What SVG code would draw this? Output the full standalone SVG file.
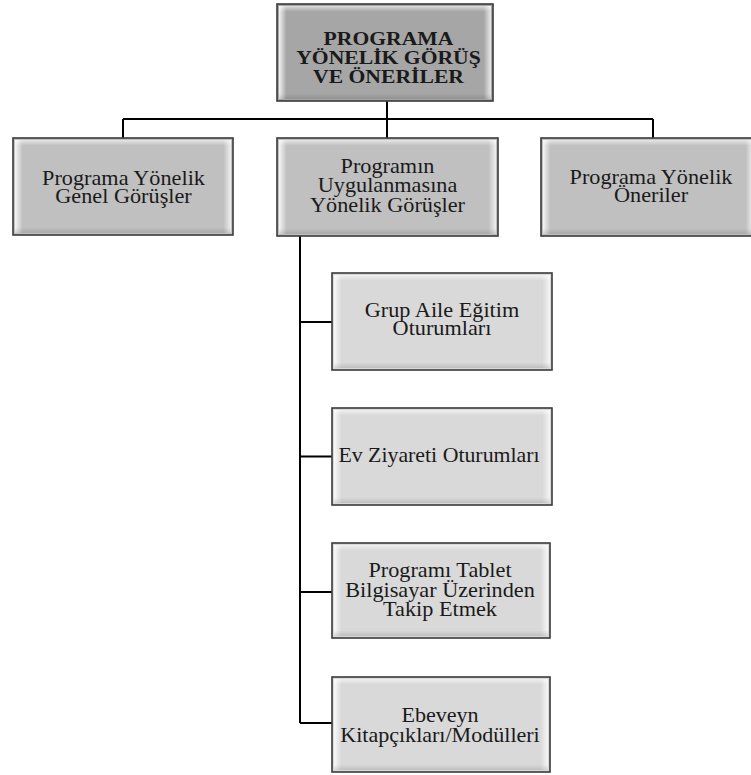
<svg xmlns="http://www.w3.org/2000/svg" width="751" height="775" viewBox="0 0 751 775">
<defs>
<linearGradient id="bevH" x1="0" y1="0" x2="1" y2="0">
<stop offset="0" stop-color="#ffffff" stop-opacity="0.85"/>
<stop offset="0.035" stop-color="#ffffff" stop-opacity="0"/>
<stop offset="0.965" stop-color="#ffffff" stop-opacity="0"/>
<stop offset="1" stop-color="#ffffff" stop-opacity="0.75"/>
</linearGradient>
<linearGradient id="bevV" x1="0" y1="0" x2="0" y2="1">
<stop offset="0" stop-color="#ffffff" stop-opacity="0.6"/>
<stop offset="0.06" stop-color="#ffffff" stop-opacity="0"/>
<stop offset="0.94" stop-color="#000000" stop-opacity="0"/>
<stop offset="1" stop-color="#000000" stop-opacity="0.12"/>
</linearGradient>
</defs>
<style>
.box{stroke:#3a3a3a;stroke-width:1.6}
.top{fill:#a6a6a6}
.l2{fill:#c0c0c0}
.l3{fill:#d9d9d9}
.bh{fill:url(#bevH)}
.bv{fill:url(#bevV)}
text{font-family:"Liberation Serif","Times New Roman",serif;font-size:21px;fill:#1a1a1a;text-anchor:middle}
.b{font-weight:bold;font-size:19.5px}
.ln{stroke:#000;stroke-width:2;fill:none}
</style>
<rect width="751" height="775" fill="#ffffff"/>
<g id="connectors">
<path class="ln" d="M387 101V119M123 119H653M123 119V138M387 119V138M653 119V138"/>
<path class="ln" d="M300 236V723M300 322H332M300 456.5H332M300 592H332M300 723H332"/>
</g>
<g id="root">
<rect class="box top" x="277" y="4" width="216" height="97"/>
<rect class="bh" x="279" y="6" width="212" height="93"/>
<rect class="bv" x="279" y="6" width="212" height="93"/>
<g transform="translate(388.5 0) scale(1.11 1)">
<text class="b" x="0" y="45">PROGRAMA</text>
<text class="b" x="0" y="64.5">YÖNELİK GÖRÜŞ</text>
<text class="b" x="0" y="83.5">VE ÖNERİLER</text>
</g>
</g>
<g id="genel">
<rect class="box l2" x="13" y="138" width="220" height="97"/>
<rect class="bh" x="15" y="140" width="216" height="93"/>
<rect class="bv" x="15" y="140" width="216" height="93"/>
<g transform="translate(123.5 0) scale(1.06 1)">
<text x="0" y="185">Programa Yönelik</text>
<text x="0" y="203.5">Genel Görüşler</text>
</g>
</g>
<g id="uygulama">
<rect class="box l2" x="277" y="138" width="221" height="98"/>
<rect class="bh" x="279" y="140" width="217" height="94"/>
<rect class="bv" x="279" y="140" width="217" height="94"/>
<g transform="translate(387.5 0) scale(1.06 1)">
<text x="0" y="173">Programın</text>
<text x="0" y="192.5">Uygulanmasına</text>
<text x="0" y="212">Yönelik Görüşler</text>
</g>
</g>
<g id="oneriler">
<rect class="box l2" x="541" y="138" width="214" height="98"/>
<rect class="bh" x="543" y="140" width="210" height="94"/>
<rect class="bv" x="543" y="140" width="210" height="94"/>
<g transform="translate(651 0) scale(1.06 1)">
<text x="0" y="184">Programa Yönelik</text>
<text x="0" y="202.5">Öneriler</text>
</g>
</g>
<g id="grup">
<rect class="box l3" x="332" y="273" width="220" height="97"/>
<rect class="bh" x="334" y="275" width="216" height="93"/>
<rect class="bv" x="334" y="275" width="216" height="93"/>
<g transform="translate(442 0) scale(1.06 1)">
<text x="0" y="317">Grup Aile Eğitim</text>
<text x="0" y="335.5">Oturumları</text>
</g>
</g>
<g id="ev">
<rect class="box l3" x="332" y="408" width="220" height="97"/>
<rect class="bh" x="334" y="410" width="216" height="93"/>
<rect class="bv" x="334" y="410" width="216" height="93"/>
<g transform="translate(439 0) scale(1.04 1)">
<text x="0" y="462">Ev Ziyareti Oturumları</text>
</g>
</g>
<g id="tablet">
<rect class="box l3" x="332" y="543" width="218" height="95"/>
<rect class="bh" x="334" y="545" width="214" height="91"/>
<rect class="bv" x="334" y="545" width="214" height="91"/>
<g transform="translate(440 0) scale(1.06 1)">
<text x="0" y="577">Programı Tablet</text>
<text x="0" y="597">Bilgisayar Üzerinden</text>
<text x="0" y="616.5">Takip Etmek</text>
</g>
</g>
<g id="ebeveyn">
<rect class="box l3" x="332" y="677" width="218" height="95"/>
<rect class="bh" x="334" y="679" width="214" height="91"/>
<rect class="bv" x="334" y="679" width="214" height="91"/>
<g transform="translate(440 0) scale(1.05 1)">
<text x="0" y="722.5">Ebeveyn</text>
<text x="0" y="742.5">Kitapçıkları/Modülleri</text>
</g>
</g>
</svg>
